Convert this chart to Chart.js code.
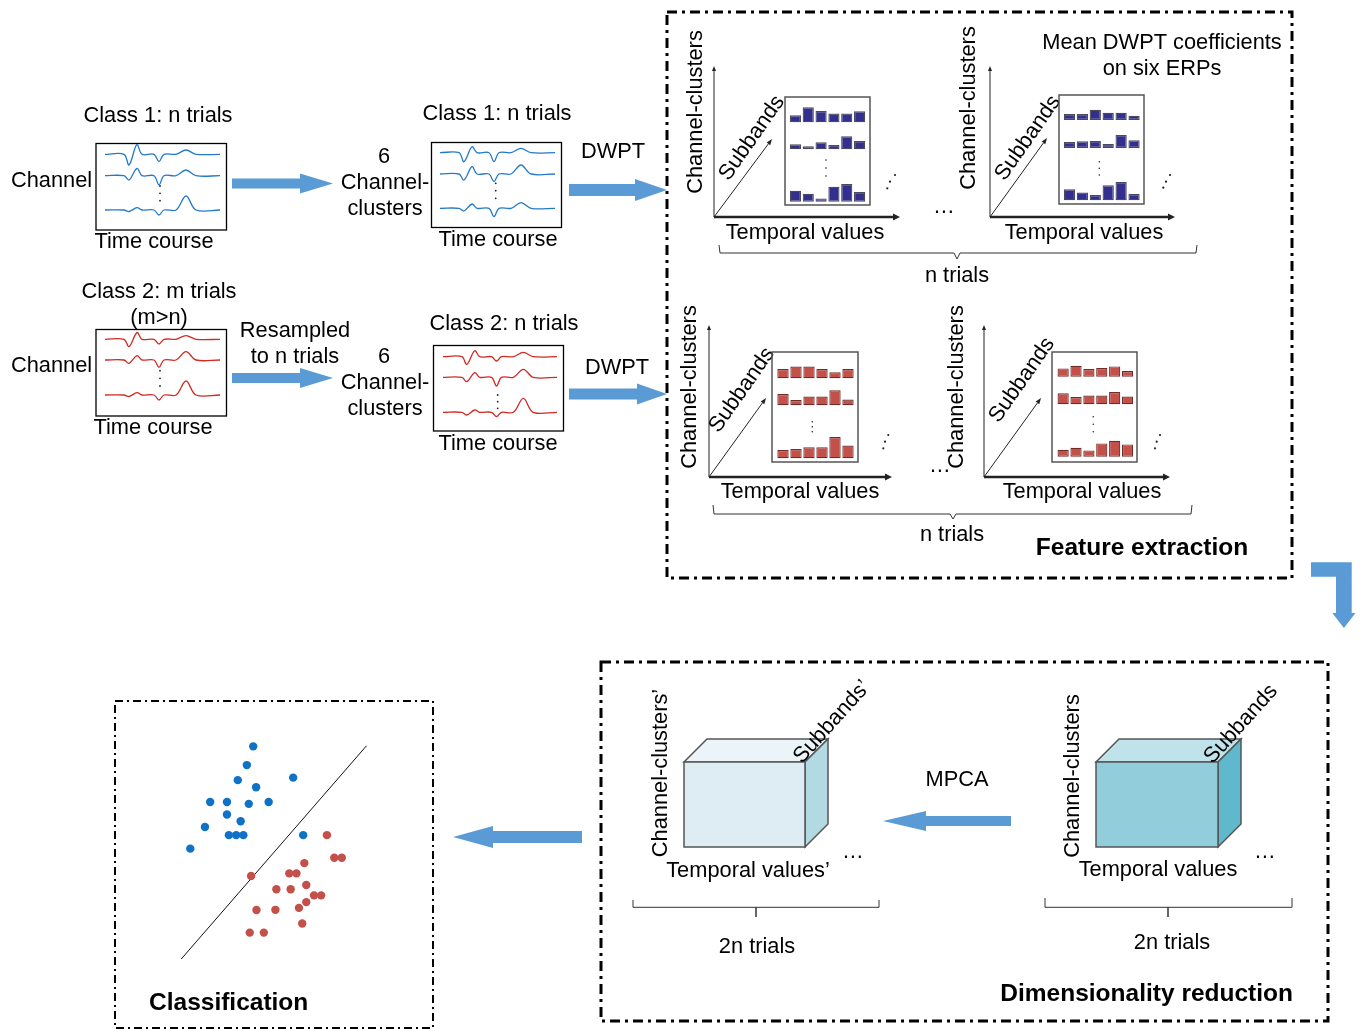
<!DOCTYPE html>
<html>
<head>
<meta charset="utf-8">
<title>ERP classification pipeline</title>
<script src="https://cdn.jsdelivr.net/npm/chart.js@4.4.1/dist/chart.umd.min.js"></script>
<style>
  html, body { margin: 0; padding: 0; background: #ffffff; }
  #stage { position: relative; width: 1360px; height: 1031px; overflow: hidden; background: #ffffff; }
</style>
</head>
<body>
<div id="stage"><canvas id="base" width="1360" height="1031" style="position:absolute;left:0;top:0;width:1360px;height:1031px;"></canvas></div>
<script>
// ---------------- DATA ----------------
// ERP waveforms: common time grid (samples) and amplitudes (up = positive)
const waveTimes = [0, 19, 24, 32, 37, 49, 54, 59, 71, 81, 91, 115];
// Class 1, raw channels
const class1RawCh1 = [0, 0, -10.7, 10, 0, 0, -7.3, 0, 0, 4.3, 0, 0];
const class1RawCh2 = [0, 0, -4.3, 7.3, 0, 0, -9.3, 0, 0, 5.7, 0, 0];
const class1RawChN = [0, 0, -1.5, 2.3, 0, 0, -5, 0, 0, 14, 0, 0];
// Class 2, raw channels
const class2RawCh1 = [0, 0, -7.3, 6.7, 0, 0, -4.7, 0, 0, 3.7, 0, 0];
const class2RawCh2 = [0, 0, -3.3, 4.3, 0, 0, -7.3, 0, 0, 8.3, 0, 0];
const class2RawChN = [0, 0, -1.5, 2.3, 0, 0, -5, 0, 0, 14, 0, 0];
// Class 1, channel-clusters
const class1Cluster1 = [0, 0, -9, 6, 0, 0, -9, 0, 0, 4.3, 0, 0];
const class1Cluster2 = [0, 0, -6, 7.3, 0, 0, -7.7, 0, 0, 9, 0, 0];
const class1Cluster6 = [0, 0, -2.7, 4.3, 0, 0, -8.3, 0, 0, 5.7, 0, 0];
// Class 2, channel-clusters
const class2Cluster1 = [0, 0, -7.7, 6, 0, 0, -4.3, 0, 0, 4.3, 0, 0];
const class2Cluster2 = [0, 0, -4.3, 4.7, 0, 0, -8.7, 0, 0, 8, 0, 0];
const class2Cluster6 = [0, 0, -2.7, 2.3, 0, 0, -4.3, 0, 0, 14, 0, 0];

// Mean DWPT coefficients (6 temporal bins) per subband row
const temporalBins = ['T1', 'T2', 'T3', 'T4', 'T5', 'T6'];
const c1TrialA_sub1 = [7, 15, 11.3, 8.7, 8.7, 11];
const c1TrialA_sub2 = [5, 3, 7, 4.3, 13, 8.3];
const c1TrialA_subK = [11, 8, 3.3, 15, 17.7, 9.7];
const c1TrialB_sub1 = [6, 6, 10.3, 7.3, 7.3, 4.3];
const c1TrialB_sub2 = [6, 6.7, 7, 4, 13, 7.7];
const c1TrialB_subK = [11, 7.7, 5.3, 15, 18.3, 6.3];
const c2TrialA_sub1 = [9.3, 11.7, 11.7, 9.3, 6, 9.3];
const c2TrialA_sub2 = [11.3, 5.3, 8.7, 8.7, 15, 5.7];
const c2TrialA_subK = [8.3, 9.3, 11, 11, 21.3, 12.7];
const c2TrialB_sub1 = [8.3, 11, 7.7, 8.7, 10.3, 5.7];
const c2TrialB_sub2 = [11, 7.3, 8.7, 8.7, 12.3, 7.7];
const c2TrialB_subK = [7, 9, 6.3, 13.3, 16, 12.3];

// Classification feature space
const class1FeatX = [5.13, 4.8, 4.33, 5.28, 7.2, 2.9, 3.77, 4.9, 5.93, 3.77, 4.48, 2.63, 3.87, 4.25, 4.62, 7.72, 1.87];
const class1FeatY = [11.37, 10.4, 9.62, 9.25, 9.75, 8.49, 8.49, 8.39, 8.49, 7.84, 7.49, 7.19, 6.77, 6.77, 6.77, 6.77, 6.07];
const class2FeatX = [8.95, 9.33, 9.72, 7.78, 5.02, 7.0, 7.37, 7.88, 6.33, 7.07, 8.28, 8.65, 7.88, 7.5, 5.3, 6.28, 7.67, 4.95, 5.68];
const class2FeatY = [6.77, 5.6, 5.6, 5.32, 4.65, 4.79, 4.79, 4.19, 3.97, 3.97, 3.65, 3.65, 3.3, 3.0, 2.89, 2.9, 2.19, 1.72, 1.72];
const boundaryX = [1.4, 11.0];
const boundaryY = [0.35, 11.4];

// ---------------- STYLE / LAYOUT ----------------
const FONT = '"Liberation Sans", Arial, Helvetica, sans-serif';
const TEXT_SIZE = 21.8;
const ARROW_BLUE = '#5b9bd5';
const WAVE_BLUE = '#2479c8';
const WAVE_RED = '#d02a22';
Chart.defaults.font.family = FONT;

const stage = document.getElementById('stage');
function addCanvas(left, top, w, h) {
  const c = document.createElement('canvas');
  c.width = w; c.height = h;
  c.style.cssText = 'position:absolute;left:' + left + 'px;top:' + top + 'px;width:' + w + 'px;height:' + h + 'px;';
  stage.appendChild(c);
  return c;
}
function baseOptions(scales, padding) {
  return {
    responsive: false, maintainAspectRatio: false, devicePixelRatio: 1, animation: false, events: [],
    layout: { padding: padding || 0 },
    plugins: { legend: { display: false }, tooltip: { enabled: false }, title: { display: false } },
    scales: scales
  };
}

// ---------------- DIAGRAM CHROME (base chart plugin) ----------------
function T(ctx, s, x, y, o) {
  o = o || {};
  ctx.save();
  ctx.font = (o.bold ? 'bold ' : '') + (o.size || TEXT_SIZE) + 'px ' + FONT;
  ctx.fillStyle = o.color || '#000';
  ctx.textAlign = o.align || 'center';
  ctx.textBaseline = 'middle';
  ctx.translate(x, y);
  if (o.rot) ctx.rotate(o.rot * Math.PI / 180);
  ctx.fillText(s, 0, 0);
  ctx.restore();
}
function poly(ctx, pts, fill, stroke, lw, close) {
  ctx.save();
  ctx.beginPath();
  ctx.moveTo(pts[0][0], pts[0][1]);
  for (let i = 1; i < pts.length; i++) ctx.lineTo(pts[i][0], pts[i][1]);
  if (close) ctx.closePath();
  if (fill) { ctx.fillStyle = fill; ctx.fill(); }
  if (stroke) { ctx.strokeStyle = stroke; ctx.lineWidth = lw || 1; ctx.lineJoin = 'miter'; ctx.stroke(); }
  ctx.restore();
}
function arrowLine(ctx, x0, y0, x1, y1, lw, hl, hw, color) {
  const a = Math.atan2(y1 - y0, x1 - x0);
  const bx = x1 - hl * Math.cos(a), by = y1 - hl * Math.sin(a);
  poly(ctx, [[x0, y0], [bx, by]], null, color, lw);
  const px = -Math.sin(a) * hw, py = Math.cos(a) * hw;
  poly(ctx, [[x1, y1], [bx + px, by + py], [bx - px, by - py]], color, null, 0, true);
}
function blockArrow(ctx, x0, x1, cy, sh, hl, hh) {
  const d = Math.sign(x1 - x0);
  const xb = x1 - d * hl;
  poly(ctx, [[x0, cy - sh], [xb, cy - sh], [xb, cy - hh], [x1, cy], [xb, cy + hh], [xb, cy + sh], [x0, cy + sh]], ARROW_BLUE, null, 0, true);
}
function dots(ctx, pts, r) {
  ctx.save();
  ctx.fillStyle = '#222';
  pts.forEach(p => { ctx.beginPath(); ctx.arc(p[0], p[1], r || 1, 0, Math.PI * 2); ctx.fill(); });
  ctx.restore();
}
function dashBox(ctx, x0, y0, x1, y1, lw, pattern) {
  ctx.save();
  ctx.setLineDash(pattern);
  ctx.lineWidth = lw;
  ctx.strokeStyle = '#000';
  ctx.strokeRect(x0, y0, x1 - x0, y1 - y0);
  ctx.restore();
}
function box(ctx, x, y, w, h, color, lw) {
  ctx.save();
  ctx.strokeStyle = color || '#000';
  ctx.lineWidth = lw || 1.3;
  ctx.strokeRect(x, y, w, h);
  ctx.restore();
}
function cube(ctx, x0, y0, x1, y1, dx, dy, front, top, side) {
  poly(ctx, [[x0, y0], [x0 + dx, y0 - dy], [x1 + dx, y0 - dy], [x1, y0]], top, '#555', 1.5, true);
  poly(ctx, [[x1, y0], [x1 + dx, y0 - dy], [x1 + dx, y1 - dy], [x1, y1]], side, '#555', 1.5, true);
  poly(ctx, [[x0, y0], [x1, y0], [x1, y1], [x0, y1]], front, '#555', 1.5, true);
}
function subChart(ctx, ox, oy, xEnd, yTop, diagEnd, ccx, ccy, sbx, sby) {
  arrowLine(ctx, ox, oy, ox, yTop, 1, 5, 2, '#222');
  arrowLine(ctx, ox, oy, xEnd, oy, 2.5, 7, 3.5, '#222');
  arrowLine(ctx, ox, oy, diagEnd[0], diagEnd[1], 1, 6, 2.2, '#222');
  T(ctx, 'Channel-clusters', ccx, ccy, { rot: -90 });
  T(ctx, 'Subbands', sbx, sby, { rot: -55 });
}

function drawDiagram(ctx) {
  // ---- left column ----
  T(ctx, 'Class 1: n trials', 158, 116);
  T(ctx, 'Channel', 11, 181, { align: 'left' });
  box(ctx, 96, 143.5, 130.5, 86.5);
  T(ctx, 'Time course', 154, 242);
  dots(ctx, [[160, 186], [160, 193.3], [160, 200.7]], 0.9);
  blockArrow(ctx, 232, 333, 183.5, 5, 33, 10);

  T(ctx, 'Class 2: m trials', 159, 292);
  T(ctx, '(m>n)', 159, 318);
  T(ctx, 'Channel', 11, 366, { align: 'left' });
  box(ctx, 96, 329.5, 130.5, 86.5);
  T(ctx, 'Time course', 153, 428);
  dots(ctx, [[160, 370.7], [160, 378.3], [160, 386]], 0.9);
  T(ctx, 'Resampled', 295, 331);
  T(ctx, 'to n trials', 295, 357);
  blockArrow(ctx, 232, 333, 378, 5, 33, 10);

  // ---- middle column ----
  T(ctx, 'Class 1: n trials', 497, 114);
  T(ctx, '6', 384, 157); T(ctx, 'Channel-', 385, 183); T(ctx, 'clusters', 385, 209);
  box(ctx, 431.5, 142.5, 130, 85);
  T(ctx, 'Time course', 498, 240);
  dots(ctx, [[495.7, 183.3], [495.7, 190.7], [495.7, 198.3]], 0.9);
  T(ctx, 'DWPT', 613, 152);
  blockArrow(ctx, 569, 667, 190, 6, 32, 11);

  T(ctx, 'Class 2: n trials', 504, 324);
  T(ctx, '6', 384, 357); T(ctx, 'Channel-', 385, 383); T(ctx, 'clusters', 385, 409);
  box(ctx, 433.5, 345.5, 130, 85.5);
  T(ctx, 'Time course', 498, 444);
  dots(ctx, [[497.7, 395], [497.7, 401.7], [497.7, 408.3]], 0.9);
  T(ctx, 'DWPT', 617, 368);
  blockArrow(ctx, 569, 667, 394, 5.5, 30, 10.5);

  // ---- feature extraction ----
  dashBox(ctx, 667, 12, 1292, 578, 3, [10, 5, 3, 5]);
  subChart(ctx, 714, 217, 900, 66, [772, 139], 696, 112, 752, 138);
  box(ctx, 785, 97, 85, 108, '#555', 1.5);
  dots(ctx, [[826, 160], [826, 168], [826, 176]], 0.8);
  dots(ctx, [[887.3, 188.3], [890, 181.7], [895, 175]], 1.1);
  T(ctx, 'Temporal values', 805, 233);
  T(ctx, '…', 944, 207);

  subChart(ctx, 990, 217, 1175, 66, [1047, 138], 969, 108, 1028, 138);
  box(ctx, 1059, 95, 85, 109, '#555', 1.5);
  dots(ctx, [[1099.3, 161.7], [1099.3, 168.3], [1099.3, 175]], 0.8);
  dots(ctx, [[1163.3, 187.7], [1166, 181.7], [1170, 175]], 1.1);
  T(ctx, 'Temporal values', 1084, 233);
  T(ctx, 'Mean DWPT coefficients', 1162, 43);
  T(ctx, 'on six ERPs', 1162, 69);
  poly(ctx, [[719, 245], [720, 253], [954, 253], [957, 259], [960, 253], [1196, 253], [1197, 245]], null, '#333', 1);
  T(ctx, 'n trials', 957, 276);

  subChart(ctx, 709, 477, 892, 325, [766, 398], 690, 387, 742, 390);
  box(ctx, 772, 352, 86, 110, '#555', 1.5);
  dots(ctx, [[812.3, 421.7], [812.3, 426.7], [812.3, 431.7]], 0.8);
  dots(ctx, [[883.3, 448.3], [885, 441.7], [888.3, 435]], 1.1);
  T(ctx, 'Temporal values', 800, 492);
  T(ctx, '…', 940, 466);

  subChart(ctx, 984, 477, 1170, 325, [1041, 398], 957, 387, 1022, 380);
  box(ctx, 1052, 352, 85, 110, '#555', 1.5);
  dots(ctx, [[1093.3, 416.7], [1093.3, 424.2], [1093.3, 431.7]], 0.8);
  dots(ctx, [[1155, 448.3], [1156.7, 441.7], [1160, 435]], 1.1);
  T(ctx, 'Temporal values', 1082, 492);
  poly(ctx, [[713, 505], [714, 514], [950, 514], [953, 519], [956, 514], [1191, 514], [1192, 505]], null, '#333', 1);
  T(ctx, 'n trials', 952, 535);
  T(ctx, 'Feature extraction', 1142, 548, { bold: true, size: 24.5 });

  // corner arrow
  poly(ctx, [[1311, 562.3], [1351.7, 562.3], [1351.7, 613], [1355.5, 613], [1343.9, 628], [1332.3, 613], [1336, 613], [1336, 576.7], [1311, 576.7]], ARROW_BLUE, null, 0, true);

  // ---- dimensionality reduction ----
  dashBox(ctx, 601, 662, 1328, 1021, 3, [10, 5, 3, 5]);
  cube(ctx, 684, 762, 805, 847, 23, 23, '#ddedf3', '#ebf4f8', '#b3dae3');
  cube(ctx, 1096, 762, 1218, 847, 23, 23, '#92cddb', '#c0e3eb', '#5fb8cb');
  T(ctx, 'Channel-clusters\u2019', 661, 773, { rot: -90 });
  T(ctx, 'Subbands\u2019', 832, 722, { rot: -48 });
  T(ctx, 'Temporal values\u2019', 748, 871);
  T(ctx, '…', 853, 852);
  T(ctx, 'Channel-clusters', 1073, 776, { rot: -90 });
  T(ctx, 'Subbands', 1241, 724, { rot: -48 });
  T(ctx, 'Temporal values', 1158, 870);
  T(ctx, '…', 1265, 852);
  T(ctx, 'MPCA', 957, 780);
  blockArrow(ctx, 1011, 883, 821, 5, 43, 10);
  poly(ctx, [[633, 900], [633, 907.3], [879, 907.3], [879, 900]], null, '#333', 1);
  poly(ctx, [[756, 907.3], [756, 917]], null, '#333', 1.5);
  poly(ctx, [[1045, 898], [1045, 907.3], [1292, 907.3], [1292, 898]], null, '#333', 1);
  poly(ctx, [[1168, 907.3], [1168, 917]], null, '#333', 1.5);
  T(ctx, '2n trials', 757, 947);
  T(ctx, '2n trials', 1172, 943);
  T(ctx, 'Dimensionality reduction', 1293, 994, { bold: true, size: 24.5, align: 'right' });

  // ---- classification ----
  blockArrow(ctx, 582, 453, 837, 6, 40, 11);
  dashBox(ctx, 115, 701, 433, 1028, 2, [8, 4, 2, 4]);
  T(ctx, 'Classification', 149, 1003, { bold: true, size: 24.5, align: 'left' });
}

new Chart(document.getElementById('base'), {
  type: 'scatter',
  data: { datasets: [] },
  options: baseOptions({
    x: { type: 'linear', min: 0, max: 1360, display: false },
    y: { type: 'linear', min: 0, max: 1031, reverse: true, display: false }
  }),
  plugins: [{ id: 'diagram', afterDraw: function (chart) { drawDiagram(chart.ctx); } }]
});

// ---------------- WAVEFORM CHARTS ----------------
function waveChart(left, top, w, h, baselines, series, color) {
  const scales = { x: { type: 'linear', axis: 'x', position: 'bottom', min: waveTimes[0], max: waveTimes[waveTimes.length - 1], display: false } };
  series.forEach(function (s, i) {
    scales['y' + i] = { type: 'linear', axis: 'y', position: 'left', display: false, min: baselines[i] - h, max: baselines[i] };
  });
  new Chart(addCanvas(left, top, w, h), {
    type: 'line',
    data: {
      datasets: series.map(function (amps, i) {
        return {
          data: waveTimes.map(function (t, k) { return { x: t, y: amps[k] }; }),
          xAxisID: 'x', yAxisID: 'y' + i, borderColor: color, borderWidth: 1.3, pointRadius: 0,
          tension: 0.35, fill: false, clip: 4
        };
      })
    },
    options: baseOptions(scales)
  });
}
waveChart(105, 144, 115, 85, [10.3, 31.7, 66], [class1RawCh1, class1RawCh2, class1RawChN], WAVE_BLUE);
waveChart(105, 330, 115, 85, [9.3, 30, 65], [class2RawCh1, class2RawCh2, class2RawChN], WAVE_RED);
waveChart(440, 143, 115, 84, [9.7, 31, 65.3], [class1Cluster1, class1Cluster2, class1Cluster6], WAVE_BLUE);
waveChart(442.7, 346, 114, 84, [10.7, 31.3, 66.3], [class2Cluster1, class2Cluster2, class2Cluster6], WAVE_RED);

// ---------------- MEAN DWPT BAR CHARTS ----------------
function dwptChart(left, top, w, h, padL, padR, baselines, rows, fill, stroke) {
  const scales = { x: { type: 'category', axis: 'x', position: 'bottom', display: false, offset: true } };
  rows.forEach(function (r, i) {
    scales['y' + i] = { type: 'linear', axis: 'y', position: 'left', display: false, min: baselines[i] - h, max: baselines[i] };
  });
  new Chart(addCanvas(left, top, w, h), {
    type: 'bar',
    data: {
      labels: temporalBins,
      datasets: rows.map(function (vals, i) {
        return {
          data: vals, xAxisID: 'x', yAxisID: 'y' + i, grouped: false,
          backgroundColor: fill, borderColor: stroke, borderWidth: 1.2, borderSkipped: false,
          barPercentage: 0.87, categoryPercentage: 1
        };
      })
    },
    options: baseOptions(scales, { left: padL, right: padR })
  });
}
dwptChart(785, 97, 85, 108, 4, 4, [25.3, 52.3, 104.7], [c1TrialA_sub1, c1TrialA_sub2, c1TrialA_subK], '#332f8f', '#4a4a5a');
dwptChart(1059, 95, 85, 109, 4, 3.5, [25, 53, 105.3], [c1TrialB_sub1, c1TrialB_sub2, c1TrialB_subK], '#332f8f', '#4a4a5a');
dwptChart(772, 352, 86, 110, 4.5, 3.5, [26.3, 53.3, 106.3], [c2TrialA_sub1, c2TrialA_sub2, c2TrialA_subK], '#c4504a', '#6e2d29');
dwptChart(1052, 352, 85, 110, 4.7, 3, [24.7, 52.3, 104.7], [c2TrialB_sub1, c2TrialB_sub2, c2TrialB_subK], '#c4504a', '#6e2d29');

// ---------------- CLASSIFICATION SCATTER ----------------
new Chart(addCanvas(150, 730, 240, 240), {
  type: 'scatter',
  data: {
    datasets: [
      { label: 'Class 1', data: class1FeatX.map(function (x, i) { return { x: x, y: class1FeatY[i] }; }),
        backgroundColor: '#0f72c6', borderWidth: 0, pointRadius: 4.2 },
      { label: 'Class 2', data: class2FeatX.map(function (x, i) { return { x: x, y: class2FeatY[i] }; }),
        backgroundColor: '#c4504a', borderWidth: 0, pointRadius: 4.2 },
      { label: 'Boundary', data: boundaryX.map(function (x, i) { return { x: x, y: boundaryY[i] }; }),
        showLine: true, borderColor: '#111', borderWidth: 1, pointRadius: 0, fill: false }
    ]
  },
  options: baseOptions({
    x: { type: 'linear', min: 0, max: 12, display: false },
    y: { type: 'linear', min: 0, max: 12, display: false }
  })
});
</script>
</body>
</html>
